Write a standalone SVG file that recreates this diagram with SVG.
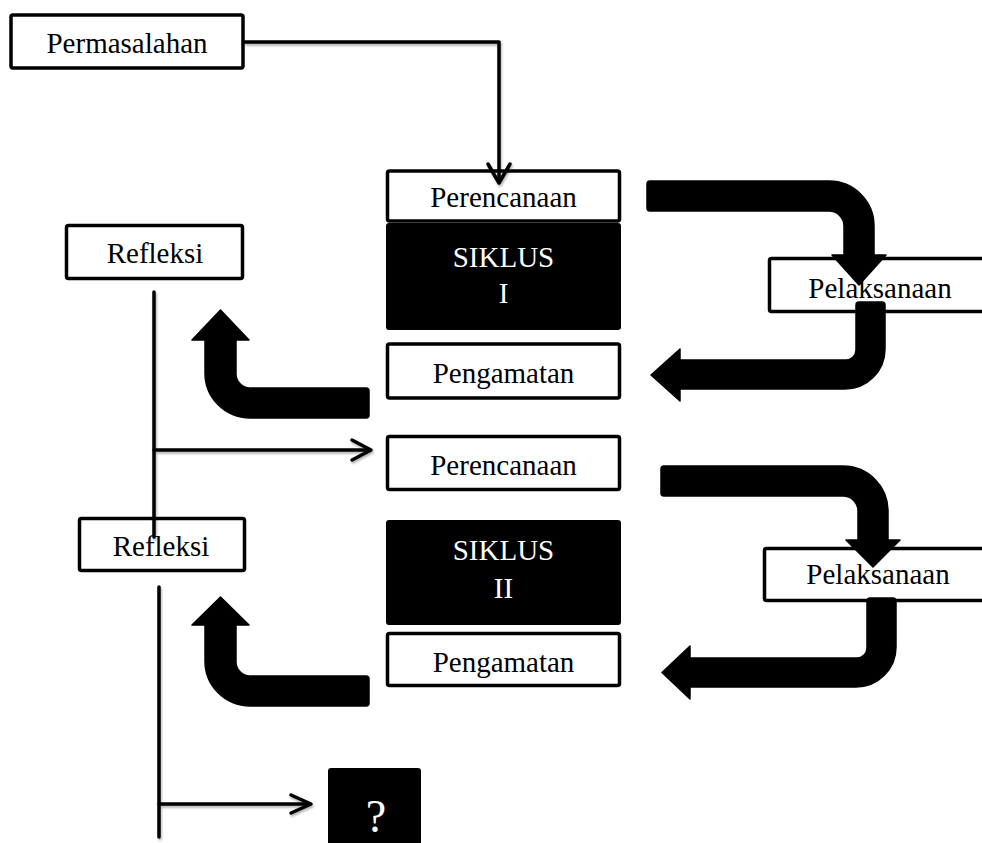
<svg xmlns="http://www.w3.org/2000/svg" width="982" height="843" viewBox="0 0 982 843">
<defs>
<style>
.box{fill:#fff;stroke:#000;stroke-width:3.5}
.blk{fill:#000;stroke:none}
.t{font-family:"Liberation Serif","Times New Roman",serif;font-size:29px;fill:#000;text-anchor:middle}
.tw{font-family:"Liberation Serif","Times New Roman",serif;font-size:29px;fill:#fff;text-anchor:middle}
.ln{fill:none;stroke:#000;stroke-width:3.5;stroke-linecap:round;stroke-linejoin:round}
.big{fill:#000;stroke:#000;stroke-width:1.5;stroke-linejoin:round}
</style>
<filter id="sh" x="-10%" y="-10%" width="130%" height="130%">
<feDropShadow dx="1" dy="2" stdDeviation="1.2" flood-color="#000" flood-opacity="0.3"/>
</filter>
</defs>
<rect width="982" height="843" fill="#fff"/>

<g id="permasalahan">
<rect class="box" x="11" y="15" width="232" height="53" rx="2"/>
<text class="t" x="127" y="53">Permasalahan</text>
</g>

<g id="perencanaan1">
<rect class="box" x="387.5" y="171" width="232" height="50" rx="2"/>
<text class="t" x="503.5" y="207">Perencanaan</text>
</g>
<g id="siklus1">
<rect class="blk" x="386" y="223" width="235" height="107" rx="3"/>
<text class="tw" x="503.5" y="267">SIKLUS</text>
<text class="tw" x="503.5" y="303">I</text>
</g>
<g id="pengamatan1">
<rect class="box" x="387.5" y="344" width="232" height="54" rx="2"/>
<text class="t" x="503.5" y="383">Pengamatan</text>
</g>
<g id="pelaksanaan1">
<rect class="box" x="769.5" y="258.5" width="230" height="53" rx="2"/>
<text class="t" x="880" y="298">Pelaksanaan</text>
</g>
<g id="refleksi1">
<rect class="box" x="66.5" y="225.5" width="176" height="53" rx="2"/>
<text class="t" x="155" y="263">Refleksi</text>
</g>

<g id="perencanaan2">
<rect class="box" x="387.5" y="436.5" width="232" height="53" rx="2"/>
<text class="t" x="503.5" y="475">Perencanaan</text>
</g>
<g id="siklus2">
<rect class="blk" x="386" y="520" width="235" height="105" rx="3"/>
<text class="tw" x="503.5" y="560">SIKLUS</text>
<text class="tw" x="503.5" y="598">II</text>
</g>
<g id="pengamatan2">
<rect class="box" x="387.5" y="633.5" width="232" height="52" rx="2"/>
<text class="t" x="503.5" y="672">Pengamatan</text>
</g>
<g id="pelaksanaan2">
<rect class="box" x="764.5" y="548.5" width="235" height="52" rx="2"/>
<text class="t" x="878" y="584">Pelaksanaan</text>
</g>
<g id="refleksi2">
<rect class="box" x="79.5" y="518.5" width="165" height="52" rx="2"/>
<text class="t" x="161" y="556">Refleksi</text>
</g>

<g id="unknown">
<rect class="blk" x="328" y="768" width="93" height="90" rx="3"/>
<text class="tw" x="376" y="832" style="font-size:46px">?</text>
</g>

<g id="connectors">
<g filter="url(#sh)">
<path class="ln" d="M245,42 L499,42 L499,182"/>
<path class="ln" d="M488,164 L499,183 L510,164"/>
<path class="ln" d="M154,292 L154,537"/>
<path class="ln" d="M154,450 L370,450"/>
<path class="ln" d="M352,440 L371,450 L352,460"/>
<path class="ln" d="M159,587 L159,837"/>
<path class="ln" d="M159,804 L310,804"/>
<path class="ln" d="M291,795 L311,804 L291,813"/>
</g>
<path class="big" d="M650,181 L829,181 A45,45 0 0 1 874,226 L874,255 L886,255 L859,285 L832,255 L844,255 L844,226 A15,15 0 0 0 829,211 L650,211 Q647,211 647,208 L647,184 Q647,181 650,181 Z"/>
<path class="big" d="M859,302 L882,302 Q885,302 885,305 L885,349 A40,40 0 0 1 845,389 L680,389 L680,401 L651,375 L680,349 L680,360 L846,360 A10,10 0 0 0 856,350 L856,305 Q856,302 859,302 Z"/>
<path class="big" d="M369,391 Q369,388 366,388 L250,388 A14,14 0 0 1 236,374 L236,340 L249,340 L220.5,310 L192,340 L205,340 L205,373 A45,45 0 0 0 250,418 L366,418 Q369,418 369,415 Z"/>
<path class="big" d="M664,466 L843,466 A45,45 0 0 1 888,511 L888,540 L900,540 L873,567 L846,540 L858,540 L858,511 A15,15 0 0 0 843,496 L664,496 Q661,496 661,493 L661,469 Q661,466 664,466 Z"/>
<path class="big" d="M870,598 L893,598 Q896,598 896,601 L896,647 A40,40 0 0 1 856,687 L690,687 L690,699 L662,672.5 L690,646 L690,658 L857,658 A10,10 0 0 0 867,648 L867,601 Q867,598 870,598 Z"/>
<path class="big" d="M369,679 Q369,676 366,676 L250,676 A14,14 0 0 1 236,662 L236,625 L249,625 L220.5,597 L192,625 L205,625 L205,661 A45,45 0 0 0 250,706 L366,706 Q369,706 369,703 Z"/>
</g>
</svg>
